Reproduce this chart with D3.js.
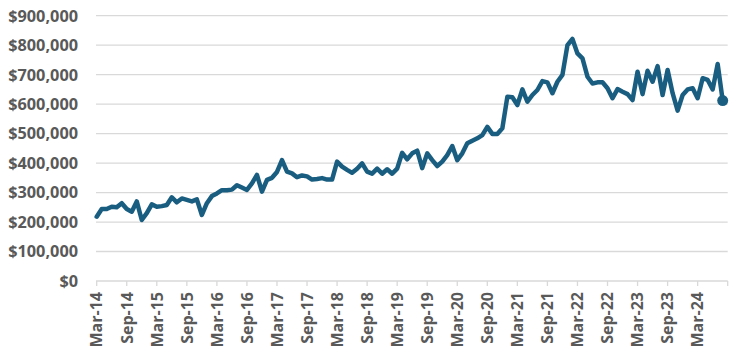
<!DOCTYPE html>
<html>
<head>
<meta charset="utf-8">
<script src="https://cdn.jsdelivr.net/npm/d3@7"></script>
<style>
  html, body { margin: 0; padding: 0; background: #fff; }
  svg text { font-family: "Open Sans", "Liberation Sans", Arial, sans-serif; font-weight: 700; fill: #595959; }
</style>
</head>
<body>
<svg id="chart" width="740" height="356"></svg>
<script>
// Monthly values starting Mar-14 (index 0) through Aug-24
const startLabel = "Mar-14";
const values = [
  218, 244, 244, 252, 250, 264, 244, 235, 270, 207,
  230, 260, 252, 254, 258, 284, 267, 280, 275, 270,
  277, 224, 264, 288, 297, 308, 308, 310, 325, 317,
  309, 331, 360, 303, 343, 350, 370, 410, 371, 365,
  352, 358, 355, 344, 346, 349, 344, 344, 405, 388,
  377, 367, 381, 399, 371, 364, 381, 364, 379, 364,
  381, 435, 413, 433, 442, 383, 433, 410, 390, 405,
  427, 458, 410, 433, 467, 476, 484, 495, 523, 499,
  499, 518, 625, 623, 597, 650, 608, 631, 648, 678,
  674, 637, 676, 699, 800, 821, 772, 755, 693, 670,
  674, 674, 654, 620, 651, 642, 634, 614, 710, 634,
  713, 676, 729, 631, 716, 637, 578, 631, 650, 654,
  620, 688, 682, 650, 736, 612
].map(v => v * 1000);
const axisMonths = 126; // axis spans Mar-14 .. Sep-24
const tickLabels = ["Mar-14","Sep-14","Mar-15","Sep-15","Mar-16","Sep-16","Mar-17","Sep-17","Mar-18","Sep-18","Mar-19","Sep-19","Mar-20","Sep-20","Mar-21","Sep-21","Mar-22","Sep-22","Mar-23","Sep-23","Mar-24"];
const yTicks = [0, 100000, 200000, 300000, 400000, 500000, 600000, 700000, 800000, 900000];

const svg = d3.select("#chart");
const x = d3.scaleLinear().domain([0, axisMonths]).range([96.7, 727.7]);
const y = d3.scaleLinear().domain([0, 900000]).range([281, 15.7]);

// gridlines
svg.append("g").selectAll("line").data(yTicks).join("line")
  .attr("x1", 96).attr("x2", 727.7)
  .attr("y1", d => y(d)).attr("y2", d => y(d))
  .attr("stroke", "#d9d9d9").attr("stroke-width", 1.3);

// y labels
const fmt = d3.format("$,");
svg.append("g").selectAll("text").data(yTicks).join("text")
  .attr("x", 78).attr("y", d => y(d)).attr("dy", "0.36em")
  .attr("text-anchor", "end").attr("font-size", 16.3)
  .text(d => fmt(d));

// x tick marks
const tickIdx = d3.range(0, axisMonths + 1, 6);
svg.append("g").selectAll("line").data(tickIdx).join("line")
  .attr("x1", d => x(d)).attr("x2", d => x(d))
  .attr("y1", 281).attr("y2", 286)
  .attr("stroke", "#d9d9d9").attr("stroke-width", 1.3);

// x labels
svg.append("g").selectAll("text").data(tickLabels).join("text")
  .attr("transform", (d, i) => `translate(${x(i * 6)},292) rotate(-90)`)
  .attr("dy", "0.36em")
  .attr("text-anchor", "end").attr("font-size", 16)
  .text(d => d);

// line
const line = d3.line().x((d, i) => x(i)).y(d => y(d)).curve(d3.curveLinear);
svg.append("path").datum(values)
  .attr("d", line)
  .attr("fill", "none").attr("stroke", "#195e80")
  .attr("stroke-width", 4.5).attr("stroke-linejoin", "round").attr("stroke-linecap", "round");

// end dot
const last = values.length - 1;
svg.append("circle")
  .attr("cx", x(last)).attr("cy", y(values[last])).attr("r", 5.5)
  .attr("fill", "#195e80");
</script>
</body>
</html>
